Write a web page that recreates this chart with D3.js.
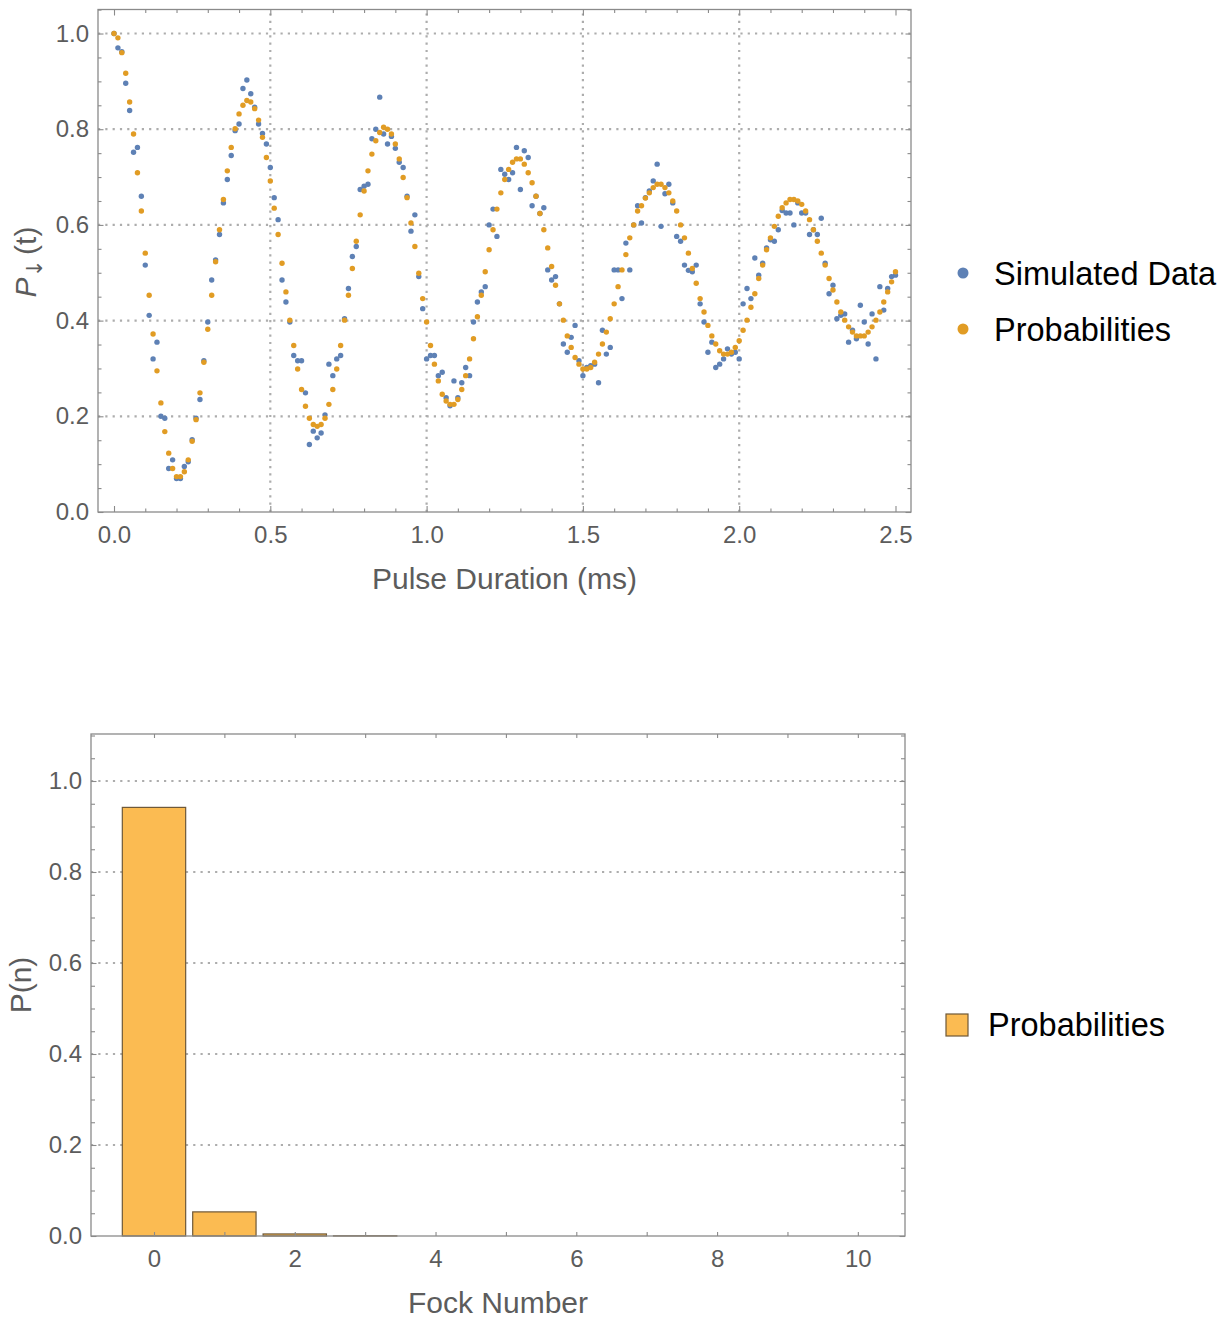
<!DOCTYPE html>
<html>
<head>
<meta charset="utf-8">
<script src="https://cdn.jsdelivr.net/npm/d3@7"></script>
<style>
  body { margin: 0; background: #fff; }
  svg { display: block; font-family: "Liberation Sans", Arial, sans-serif; }
</style>
</head>
<body>
<div id="container"></div>
<script>
const width = 1232;
const height = 1320;

// pulse durations are sampled every 0.0125 ms from 0 to 2.5 ms
const pulseStep = 0.0125;

// blue points (noisy simulation)
const simulatedData = [
  1.000, 0.970, 0.962, 0.896, 0.839, 0.752, 0.762, 0.660, 0.516, 0.411, 0.320, 0.355, 0.200, 0.196, 0.091, 0.109,
  0.070, 0.070, 0.095, 0.105, 0.151, 0.196, 0.235, 0.316, 0.397, 0.485, 0.527, 0.580, 0.646, 0.695, 0.745, 0.797,
  0.811, 0.885, 0.903, 0.874, 0.846, 0.811, 0.791, 0.769, 0.720, 0.657, 0.611, 0.485, 0.439, 0.397, 0.327, 0.316,
  0.316, 0.249, 0.141, 0.169, 0.155, 0.165, 0.203, 0.309, 0.285, 0.320, 0.327, 0.404, 0.467, 0.534, 0.555, 0.674,
  0.681, 0.685, 0.780, 0.800, 0.867, 0.790, 0.769, 0.785, 0.760, 0.731, 0.720, 0.660, 0.587, 0.621, 0.492, 0.425,
  0.320, 0.327, 0.327, 0.285, 0.292, 0.239, 0.222, 0.274, 0.239, 0.270, 0.302, 0.285, 0.397, 0.439, 0.460, 0.471,
  0.600, 0.633, 0.576, 0.716, 0.706, 0.695, 0.709, 0.762, 0.674, 0.755, 0.741, 0.640, 0.660, 0.624, 0.636, 0.506,
  0.485, 0.492, 0.435, 0.351, 0.334, 0.365, 0.390, 0.316, 0.285, 0.302, 0.306, 0.309, 0.270, 0.380, 0.330, 0.344,
  0.506, 0.506, 0.446, 0.562, 0.506, 0.600, 0.640, 0.604, 0.657, 0.671, 0.692, 0.727, 0.597, 0.665, 0.685, 0.646,
  0.576, 0.566, 0.516, 0.505, 0.502, 0.516, 0.435, 0.397, 0.334, 0.355, 0.302, 0.309, 0.320, 0.341, 0.330, 0.334,
  0.320, 0.435, 0.467, 0.446, 0.531, 0.495, 0.520, 0.552, 0.569, 0.566, 0.590, 0.630, 0.625, 0.625, 0.600, 0.646,
  0.625, 0.625, 0.580, 0.590, 0.580, 0.614, 0.520, 0.456, 0.474, 0.404, 0.411, 0.414, 0.355, 0.380, 0.362, 0.432,
  0.397, 0.351, 0.414, 0.320, 0.471, 0.422, 0.467, 0.492, 0.495
];

// orange points (probabilities)
const probabilities = [
  1.000, 0.991, 0.960, 0.917, 0.857, 0.790, 0.709, 0.629, 0.541, 0.453, 0.372, 0.295, 0.228, 0.168, 0.123, 0.091,
  0.074, 0.074, 0.084, 0.109, 0.148, 0.193, 0.249, 0.313, 0.382, 0.453, 0.523, 0.590, 0.653, 0.713, 0.762, 0.801,
  0.832, 0.850, 0.860, 0.857, 0.843, 0.819, 0.783, 0.741, 0.692, 0.635, 0.580, 0.520, 0.460, 0.401, 0.348, 0.299,
  0.256, 0.221, 0.196, 0.183, 0.179, 0.183, 0.196, 0.225, 0.256, 0.299, 0.348, 0.401, 0.453, 0.509, 0.566, 0.621,
  0.671, 0.713, 0.748, 0.776, 0.793, 0.804, 0.800, 0.790, 0.769, 0.738, 0.699, 0.657, 0.604, 0.555, 0.499, 0.446,
  0.397, 0.348, 0.309, 0.274, 0.246, 0.232, 0.225, 0.225, 0.235, 0.256, 0.285, 0.320, 0.362, 0.408, 0.453, 0.502,
  0.548, 0.590, 0.633, 0.667, 0.695, 0.716, 0.731, 0.738, 0.738, 0.727, 0.709, 0.688, 0.660, 0.624, 0.590, 0.552,
  0.513, 0.474, 0.435, 0.401, 0.368, 0.344, 0.323, 0.309, 0.299, 0.299, 0.302, 0.313, 0.330, 0.351, 0.376, 0.404,
  0.435, 0.471, 0.506, 0.538, 0.573, 0.600, 0.629, 0.640, 0.656, 0.667, 0.678, 0.685, 0.685, 0.678, 0.667, 0.650,
  0.629, 0.600, 0.573, 0.541, 0.509, 0.478, 0.446, 0.418, 0.390, 0.368, 0.351, 0.337, 0.330, 0.330, 0.334, 0.344,
  0.358, 0.380, 0.401, 0.428, 0.456, 0.488, 0.516, 0.548, 0.573, 0.597, 0.618, 0.636, 0.646, 0.653, 0.653, 0.650,
  0.643, 0.629, 0.611, 0.590, 0.566, 0.541, 0.516, 0.488, 0.464, 0.439, 0.418, 0.401, 0.387, 0.376, 0.368, 0.368,
  0.368, 0.376, 0.387, 0.401, 0.418, 0.439, 0.460, 0.481, 0.502
];

const pulseTicks = [0, 0.5, 1, 1.5, 2, 2.5];
const pulseMinorTicks = [0.1, 0.2, 0.3, 0.4, 0.6, 0.7, 0.8, 0.9, 1.1, 1.2, 1.3, 1.4, 1.6, 1.7, 1.8, 1.9, 2.1, 2.2, 2.3, 2.4];
const pulseGrid = [0.5, 1, 1.5, 2];
const probTicks = [0, 0.2, 0.4, 0.6, 0.8, 1.0];
const probGrid = [0.2, 0.4, 0.6, 0.8, 1.0];
const probMinorTicks = [0.05, 0.1, 0.15, 0.25, 0.3, 0.35, 0.45, 0.5, 0.55, 0.65, 0.7, 0.75, 0.85, 0.9, 0.95, 1.05, 1.1];

// bottom chart: photon number distribution
const fockNumbers = [0, 1, 2, 3, 4, 5, 6, 7, 8, 9, 10];
const fockProbs = [0.942, 0.053, 0.0045, 0.0004, 0, 0, 0, 0, 0, 0, 0];
const fockLabelTicks = [0, 2, 4, 6, 8, 10];

const blue = "#5e81b5";
const orange = "#e19c24";
const frameColor = "#8a8a8a";
const labelColor = "#5c5c5c";
const gridColor = "#adadad";

const svg = d3.select("#container").append("svg")
    .attr("width", width)
    .attr("height", height);

// draws ticks on all four sides of a frame, pointing inward
function frameTicks(g, x, y, o) {
    const style = sel => {
        sel.select(".domain").remove();
        sel.selectAll(".tick line").attr("stroke", frameColor).attr("stroke-width", 1.1);
        sel.selectAll("text").attr("fill", labelColor).style("font-size", "24px")
            .style("font-family", '"Liberation Sans", Arial, sans-serif');
        sel.attr("font-size", null).attr("font-family", null);
    };
    const [x0, x1] = x.range();
    const [y0, y1] = y.range();  // y0 = bottom, y1 = top

    g.append("g").attr("transform", `translate(0,${y0})`)
        .call(d3.axisBottom(x).tickValues(o.xMajor).tickSize(-o.xMajorLen).tickPadding(14).tickFormat(o.xFormat))
        .call(style);
    g.append("g").attr("transform", `translate(0,${y1})`)
        .call(d3.axisTop(x).tickValues(o.xMajor).tickSize(-o.xMajorLen).tickFormat(""))
        .call(style);
    if (o.xMinor) {
        g.append("g").attr("transform", `translate(0,${y0})`)
            .call(d3.axisBottom(x).tickValues(o.xMinor).tickSize(-o.xMinorLen).tickFormat(""))
            .call(style);
        g.append("g").attr("transform", `translate(0,${y1})`)
            .call(d3.axisTop(x).tickValues(o.xMinor).tickSize(-o.xMinorLen).tickFormat(""))
            .call(style);
    }
    g.append("g").attr("transform", `translate(${x0},0)`)
        .call(d3.axisLeft(y).tickValues(o.yMajor).tickSize(-o.yMajorLen).tickPadding(9).tickFormat(d3.format(".1f")))
        .call(style);
    g.append("g").attr("transform", `translate(${x1},0)`)
        .call(d3.axisRight(y).tickValues(o.yMajor).tickSize(-o.yMajorLen).tickFormat(""))
        .call(style);
    g.append("g").attr("transform", `translate(${x0},0)`)
        .call(d3.axisLeft(y).tickValues(o.yMinor).tickSize(-o.yMinorLen).tickFormat(""))
        .call(style);
    g.append("g").attr("transform", `translate(${x1},0)`)
        .call(d3.axisRight(y).tickValues(o.yMinor).tickSize(-o.yMinorLen).tickFormat(""))
        .call(style);

    g.append("rect")
        .attr("x", x0).attr("y", y1)
        .attr("width", x1 - x0).attr("height", y0 - y1)
        .attr("fill", "none")
        .attr("stroke", frameColor)
        .attr("stroke-width", 1.3);
}

function gridLines(g, x, y, xs, ys) {
    const [x0, x1] = x.range();
    const [y0, y1] = y.range();
    g.selectAll(".hgrid").data(ys).enter().append("line")
        .attr("x1", x0).attr("x2", x1)
        .attr("y1", d => y(d)).attr("y2", d => y(d))
        .attr("stroke", gridColor).attr("stroke-width", 2.2)
        .attr("stroke-dasharray", "2.2,5.1");
    g.selectAll(".vgrid").data(xs).enter().append("line")
        .attr("y1", y0).attr("y2", y1)
        .attr("x1", d => x(d)).attr("x2", d => x(d))
        .attr("stroke", gridColor).attr("stroke-width", 2.2)
        .attr("stroke-dasharray", "2.2,5.1");
}

// ---------- top chart ----------
const xScale = d3.scaleLinear().domain([-0.0512, 2.5496]).range([98, 911]);
const yScale = d3.scaleLinear().domain([0, 1.0502]).range([512, 9.5]);

const topChart = svg.append("g");
gridLines(topChart, xScale, yScale, pulseGrid, probGrid);

const pulse = i => i * pulseStep;

topChart.append("g").selectAll("circle")
    .data(simulatedData)
    .enter().append("circle")
    .attr("cx", (d, i) => xScale(pulse(i)))
    .attr("cy", d => yScale(d))
    .attr("r", 2.7)
    .attr("fill", blue);

topChart.append("g").selectAll("circle")
    .data(probabilities)
    .enter().append("circle")
    .attr("cx", (d, i) => xScale(pulse(i)))
    .attr("cy", d => yScale(d))
    .attr("r", 2.7)
    .attr("fill", orange);

frameTicks(topChart, xScale, yScale, {
    xMajor: pulseTicks, xMinor: pulseMinorTicks, xMajorLen: 6, xMinorLen: 3.5,
    xFormat: d3.format(".1f"),
    yMajor: probTicks, yMinor: probMinorTicks, yMajorLen: 5.5, yMinorLen: 3.5
});

topChart.append("text")
    .attr("x", (xScale.range()[0] + xScale.range()[1]) / 2)
    .attr("y", 589)
    .attr("text-anchor", "middle")
    .attr("fill", labelColor)
    .style("font-size", "30px")
    .text("Pulse Duration (ms)");

const yTitle = topChart.append("text")
    .attr("transform", "translate(36,262) rotate(-90)")
    .attr("text-anchor", "middle")
    .attr("fill", labelColor)
    .style("font-size", "30px");
yTitle.append("tspan").attr("font-style", "italic").text("P");
yTitle.append("tspan").attr("dy", 6).style("font-size", "22px")
    .style("font-family", '"DejaVu Sans", sans-serif').text("↓");
yTitle.append("tspan").attr("dy", -6).attr("dx", 4).text("(t)");

// legend
const legendTop = svg.append("g");
const legendItems = [["Simulated Data", blue, 273], ["Probabilities", orange, 329]];
legendItems.forEach(([name, color, cy]) => {
    legendTop.append("circle").attr("cx", 963).attr("cy", cy).attr("r", 5.5).attr("fill", color);
    legendTop.append("text").attr("x", 994).attr("y", cy + 12)
        .attr("fill", "#000").style("font-size", "32.5px").text(name);
});

// ---------- bottom chart ----------
const xFock = d3.scaleLinear().domain([-0.895, 10.67]).range([91, 905]);
const yFock = d3.scaleLinear().domain([0, 1.1033]).range([1236, 734]);

const bottomChart = svg.append("g");
gridLines(bottomChart, xFock, yFock, [], probGrid);

bottomChart.append("g").selectAll("rect")
    .data(fockNumbers)
    .enter().append("rect")
    .attr("x", d => xFock(d - 0.45))
    .attr("width", xFock(0.9) - xFock(0))
    .attr("y", (d, i) => yFock(fockProbs[i]))
    .attr("height", (d, i) => yFock(0) - yFock(fockProbs[i]))
    .attr("fill", "#fbbb52")
    .attr("stroke", "#6e5838")
    .attr("stroke-width", 1.2);

frameTicks(bottomChart, xFock, yFock, {
    xMajor: fockNumbers, xMajorLen: 4,
    xFormat: d => fockLabelTicks.includes(d) ? d : "",
    yMajor: probTicks, yMinor: probMinorTicks, yMajorLen: 5.5, yMinorLen: 4
});

bottomChart.append("text")
    .attr("x", (xFock.range()[0] + xFock.range()[1]) / 2)
    .attr("y", 1313)
    .attr("text-anchor", "middle")
    .attr("fill", labelColor)
    .style("font-size", "30px")
    .text("Fock Number");

bottomChart.append("text")
    .attr("transform", "translate(31,985) rotate(-90)")
    .attr("text-anchor", "middle")
    .attr("fill", labelColor)
    .style("font-size", "30px")
    .text("P(n)");

const legendBottom = svg.append("g");
legendBottom.append("rect")
    .attr("x", 946).attr("y", 1014).attr("width", 22).attr("height", 22)
    .attr("fill", "#fbbb52").attr("stroke", "#6e5838").attr("stroke-width", 1.2);
legendBottom.append("text")
    .attr("x", 988).attr("y", 1036)
    .attr("fill", "#000").style("font-size", "32.5px").text("Probabilities");
</script>
</body>
</html>
